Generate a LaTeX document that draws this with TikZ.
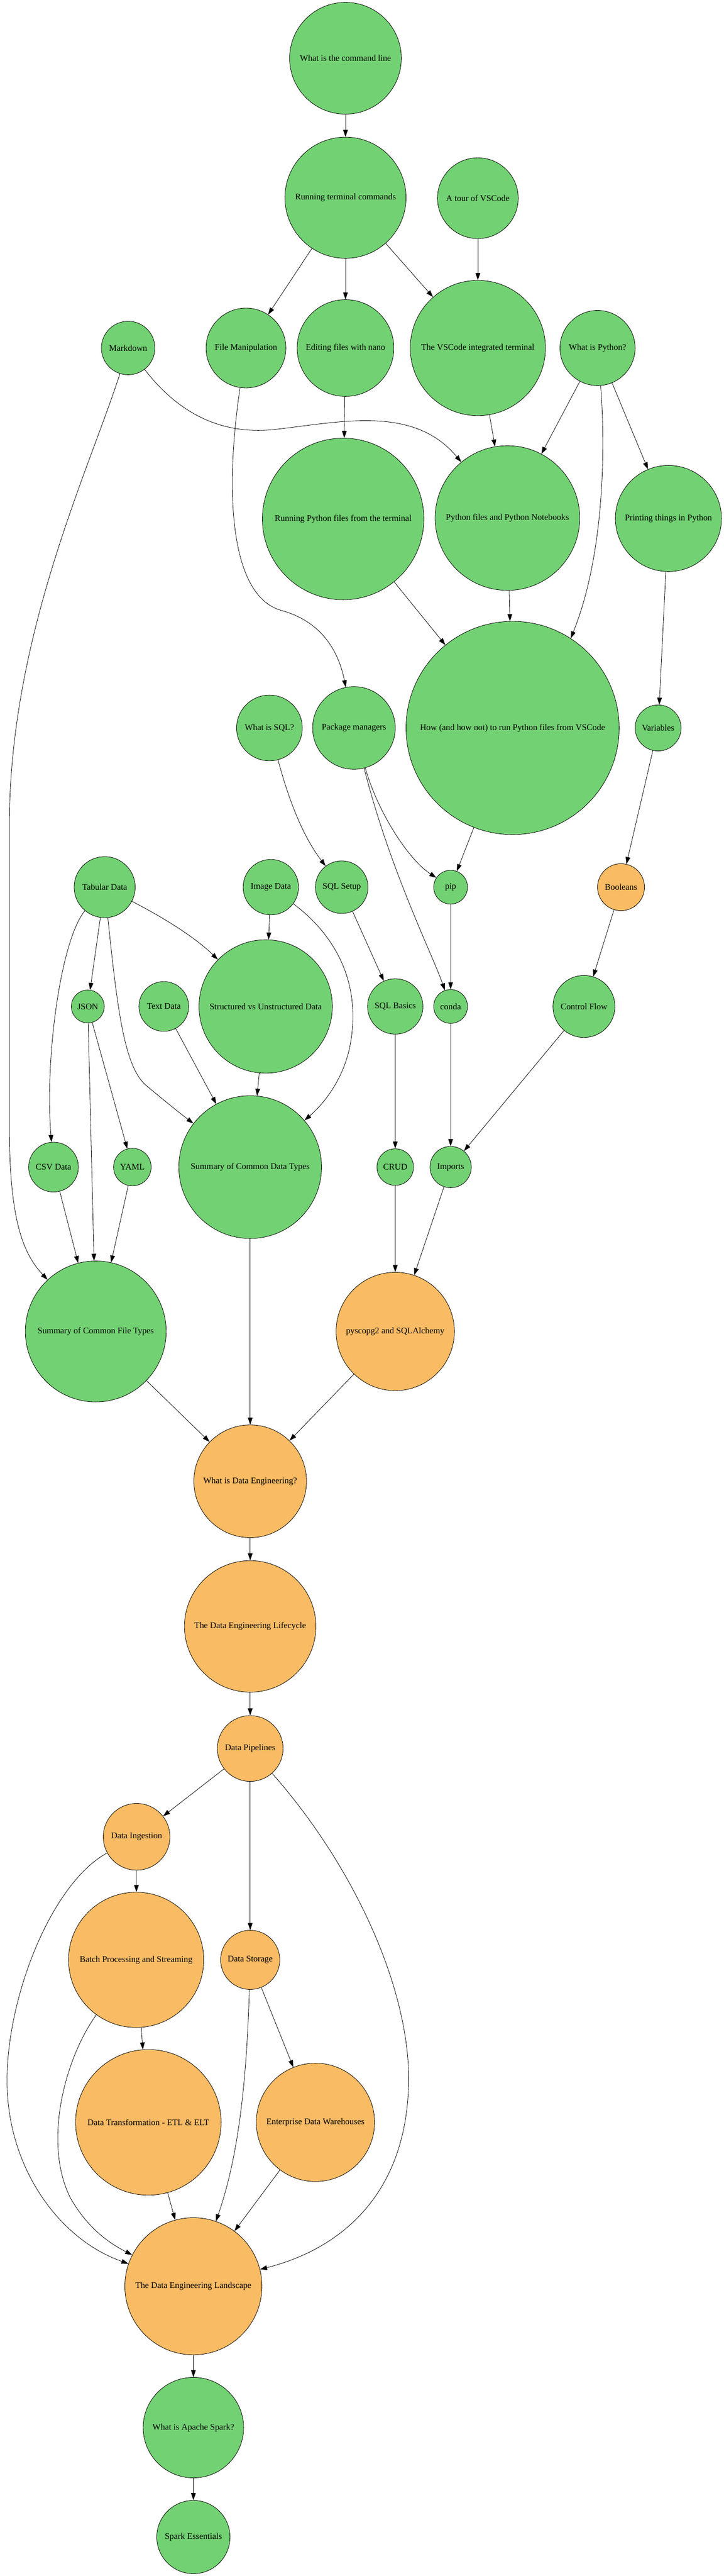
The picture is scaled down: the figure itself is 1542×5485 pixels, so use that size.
\documentclass[tikz,border=0pt]{standalone}
\usepackage{fontspec}
\setmainfont{Liberation Serif}
\usepackage{tikz}
\usetikzlibrary{arrows,arrows.meta}
\definecolor{topicgreen}{HTML}{72D172}
\definecolor{topicorange}{HTML}{F9BB64}

\begin{document}
\begin{tikzpicture}[x=1pt,y=-1pt]
						\tikzstyle{topic}=[circle,draw=black,fill=topicgreen,inner sep=0pt,line width=0.9pt,font=\fontsize{18.5}{22}\selectfont]
						\tikzstyle{detopic}=[topic,fill=topicorange]
						\tikzstyle{dep}=[-{Triangle[length=15pt,width=10pt]},line width=0.9pt]
						\useasboundingbox (0,0) rectangle (1542,5485);
						\node[topic,minimum size=238pt] (1) at (736,124) {What is the command line};
						\node[topic,minimum size=258pt] (2) at (736,421) {Running terminal commands};
						\node[topic,minimum size=172pt] (3) at (1018,422) {A tour of VSCode};
						\node[topic,minimum size=114pt] (4) at (273,741) {Markdown};
						\node[topic,minimum size=170pt] (5) at (524,741) {File Manipulation};
						\node[topic,minimum size=206pt] (6) at (736,741) {Editing files with nano};
						\node[topic,minimum size=288pt] (7) at (1018,741) {The VSCode integrated terminal};
						\node[topic,minimum size=160pt] (8) at (1273,741) {What is Python?};
						\node[topic,minimum size=344pt] (9) at (731,1105) {Running Python files from the terminal};
						\node[topic,minimum size=308pt] (10) at (1081,1103) {Python files and Python Notebooks};
						\node[topic,minimum size=226pt] (11) at (1424,1104) {Printing things in Python};
						\node[topic,minimum size=140pt] (12) at (574,1550) {What is SQL?};
						\node[topic,minimum size=176pt] (13) at (754,1550) {Package managers};
						\node[topic,minimum size=454pt] (14) at (1092,1550) {How (and how not) to run Python files from VSCode};
						\node[topic,minimum size=98pt] (15) at (1402,1550) {Variables};
						\node[topic,minimum size=130pt] (16) at (223,1889) {Tabular Data};
						\node[topic,minimum size=118pt] (17) at (577,1889) {Image Data};
						\node[topic,minimum size=112pt] (18) at (728,1889) {SQL Setup};
						\node[topic,minimum size=72pt] (19) at (960,1889) {pip};
						\node[detopic,minimum size=100pt] (20) at (1323,1889) {Booleans};
						\node[topic,minimum size=70pt] (21) at (187,2143) {JSON};
						\node[topic,minimum size=106pt] (22) at (349,2143) {Text Data};
						\node[topic,minimum size=284pt] (23) at (566,2143) {Structured vs Unstructured Data};
						\node[topic,minimum size=118pt] (24) at (842,2143) {SQL Basics};
						\node[topic,minimum size=72pt] (25) at (960,2143) {conda};
						\node[topic,minimum size=132pt] (26) at (1244,2143) {Control Flow};
						\node[topic,minimum size=106pt] (27) at (114,2485) {CSV Data};
						\node[topic,minimum size=80pt] (28) at (282,2485) {YAML};
						\node[topic,minimum size=304pt] (29) at (533,2485) {Summary of Common Data Types};
						\node[topic,minimum size=78pt] (30) at (842,2485) {CRUD};
						\node[topic,minimum size=88pt] (31) at (960,2485) {Imports};
						\node[topic,minimum size=300pt] (32) at (204,2835) {Summary of Common File Types};
						\node[detopic,minimum size=252pt] (33) at (842,2835) {pyscopg2 and SQLAlchemy};
						\node[detopic,minimum size=240pt] (34) at (533,3154) {What is Data Engineering?};
						\node[detopic,minimum size=280pt] (35) at (533,3463) {The Data Engineering Lifecycle};
						\node[detopic,minimum size=140pt] (36) at (533,3723) {Data Pipelines};
						\node[detopic,minimum size=142pt] (37) at (291,3911) {Data Ingestion};
						\node[detopic,minimum size=288pt] (38) at (290,4173) {Batch Processing and Streaming};
						\node[detopic,minimum size=126pt] (39) at (533,4173) {Data Storage};
						\node[detopic,minimum size=310pt] (40) at (316,4519) {Data Transformation - ETL \& ELT};
						\node[detopic,minimum size=252pt] (41) at (672,4519) {Enterprise Data Warehouses};
						\node[detopic,minimum size=292pt] (42) at (412,4868) {The Data Engineering Landscape};
						\node[topic,minimum size=214pt] (43) at (412,5169) {What is Apache Spark?};
						\node[topic,minimum size=156pt] (44) at (412,5402) {Spark Essentials};
						\draw[dep] (1) -- (2);
						\draw[dep] (2) -- (5);
						\draw[dep] (2) -- (6);
						\draw[dep] (2) -- (7);
						\draw[dep] (3) -- (7);
						\draw[dep] (4) .. controls (380,880) and (470,925) .. (580,915) .. controls (720,900) and (880,860) .. (10);
						\draw[dep] (4) .. controls (190,1000) and (22,1350) .. (20,1750) -- (20,2400) .. controls (20,2600) and (50,2670) .. (32);
						\draw[dep] (5) .. controls (478,1050) and (490,1270) .. (600,1300) .. controls (680,1322) and (720,1380) .. (13);
						\draw[dep] (6) -- (9);
						\draw[dep] (7) -- (10);
						\draw[dep] (8) -- (10);
						\draw[dep] (8) .. controls (1290,950) and (1288,1180) .. (14.57);
						\draw[dep] (8) -- (11);
						\draw[dep] (9) -- (14);
						\draw[dep] (10) -- (14);
						\draw[dep] (11) -- (15);
						\draw[dep] (12) .. controls (625,1740) and (660,1800) .. (18);
						\draw[dep] (13) .. controls (805,1730) and (870,1830) .. (19);
						\draw[dep] (13) .. controls (830,1850) and (920,2030) .. (25);
						\draw[dep] (14) -- (19);
						\draw[dep] (15) -- (20);
						\draw[dep] (16) -- (21);
						\draw[dep] (16) .. controls (130,2000) and (95,2250) .. (27);
						\draw[dep] (16) .. controls (360,1960) and (420,2000) .. (23);
						\draw[dep] (16) .. controls (250,2150) and (265,2270) .. (310,2310) .. controls (340,2335) and (370,2360) .. (29);
						\draw[dep] (17) -- (23);
						\draw[dep] (17) .. controls (700,1980) and (775,2080) .. (745,2230) .. controls (730,2300) and (690,2350) .. (29);
						\draw[dep] (18) -- (24);
						\draw[dep] (19) -- (25);
						\draw[dep] (20) -- (26);
						\draw[dep] (21) -- (28);
						\draw[dep] (21) -- (32);
						\draw[dep] (22) -- (29);
						\draw[dep] (23) -- (29);
						\draw[dep] (24) -- (30);
						\draw[dep] (25) -- (31);
						\draw[dep] (26) -- (31);
						\draw[dep] (27) -- (32);
						\draw[dep] (28) -- (32);
						\draw[dep] (30) -- (33);
						\draw[dep] (31) -- (33);
						\draw[dep] (32) -- (34);
						\draw[dep] (29) -- (34);
						\draw[dep] (33) -- (34);
						\draw[dep] (34) -- (35);
						\draw[dep] (35) -- (36);
						\draw[dep] (36) -- (37);
						\draw[dep] (36) -- (39);
						\draw[dep] (36) .. controls (760,3980) and (880,4250) .. (870,4450) .. controls (860,4680) and (720,4790) .. (42);
						\draw[dep] (37) -- (38);
						\draw[dep] (37) .. controls (110,4010) and (15,4250) .. (15,4430) .. controls (15,4620) and (130,4770) .. (42);
						\draw[dep] (38) -- (40);
						\draw[dep] (38) .. controls (140,4380) and (90,4560) .. (150,4680) .. controls (190,4750) and (240,4780) .. (42);
						\draw[dep] (39) -- (41);
						\draw[dep] (39) .. controls (525,4450) and (505,4600) .. (42);
						\draw[dep] (40) -- (42);
						\draw[dep] (41) -- (42);
						\draw[dep] (42) -- (43);
						\draw[dep] (43) -- (44);
						\end{tikzpicture}
\end{document}
